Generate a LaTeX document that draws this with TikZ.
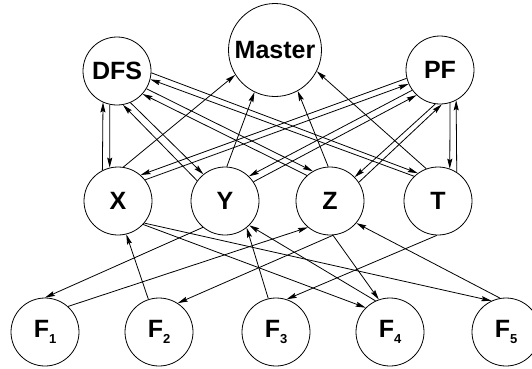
\documentclass[tikz,border=0pt]{standalone}
\usepackage{fontspec}
\setmainfont{Liberation Sans}
\usetikzlibrary{arrows.meta}
\newcommand\Fsub[1]{F\raisebox{-0.22em}{\fontsize{13}{13}\selectfont #1}}
\begin{document}
\begin{tikzpicture}[x=1pt,y=-1pt,
  vtx/.style={circle,draw,line width=0.8pt,inner sep=0pt,minimum size=68pt,
    font=\fontsize{25}{27}\selectfont\bfseries},
  arr/.style={-{Stealth[length=10pt,width=5pt,inset=1.5pt]},line width=0.8pt}]
\useasboundingbox (0,0) rectangle (532,368);
\node[vtx,minimum size=93pt] (M) at (275,50) {Master};
\node[vtx] (DFS) at (117,71) {DFS};
\node[vtx] (PF) at (440,70) {PF};
\node[vtx] (X) at (118,201) {X};
\node[vtx] (Y) at (225,201) {Y};
\node[vtx] (Z) at (330,201) {Z};
\node[vtx] (T) at (438,201) {T};
\node[vtx] (F1) at (45,332) {\Fsub{1}};
\node[vtx] (F2) at (159,332) {\Fsub{2}};
\node[vtx] (F3) at (276,332) {\Fsub{3}};
\node[vtx] (F4) at (390,332) {\Fsub{4}};
\node[vtx] (F5) at (506,332) {\Fsub{5}};
% DFS pairs
\draw[arr] (DFS.-102) -- (X.104);
\draw[arr] (X.117) -- (DFS.-114);
\draw[arr] (DFS.-67) -- (Y.129);
\draw[arr] (Y.144) -- (DFS.-80);
\draw[arr] (DFS.-3.5) -- (T.126);
\draw[arr] (T.134.5) -- (DFS.-14);
\draw[arr] (DFS.-31.5) -- (Z.120);
\draw[arr] (Z.132) -- (DFS.-42);
% PF pairs
\draw[arr] (PF.194) -- (X.49);
\draw[arr] (X.38) -- (PF.204);
\draw[arr] (PF.216) -- (Y.46);
\draw[arr] (Y.34) -- (PF.227);
\draw[arr] (PF.262) -- (Z.44);
\draw[arr] (Z.33) -- (PF.273);
\draw[arr] (PF.-73) -- (T.70);
\draw[arr] (T.57) -- (PF.-62);
% to Master
\draw[arr] (X.81) -- (M.212);
\draw[arr] (Y.87) -- (M.244);
\draw[arr] (Z.93) -- (M.-61);
\draw[arr] (T.110) -- (M.-27.5);
% bottom
\draw[arr] (Y.-130) -- (F1.90);
\draw[arr] (F1.48) -- (Z.-130);
\draw[arr] (F2.108) -- (X.-76);
\draw[arr] (Z.-85) -- (F2.57);
\draw[arr] (F3.103) -- (Y.-51);
\draw[arr] (F4.115) -- (Y.-45);
\draw[arr] (T.-92) -- (F3.72);
\draw[arr] (X.-43) -- (F4.135);
\draw[arr] (X.-40) -- (F5.115);
\draw[arr] (Z.-85) -- (F4.109);
\draw[arr] (F5.100) -- (Z.-40);
\end{tikzpicture}
\end{document}
